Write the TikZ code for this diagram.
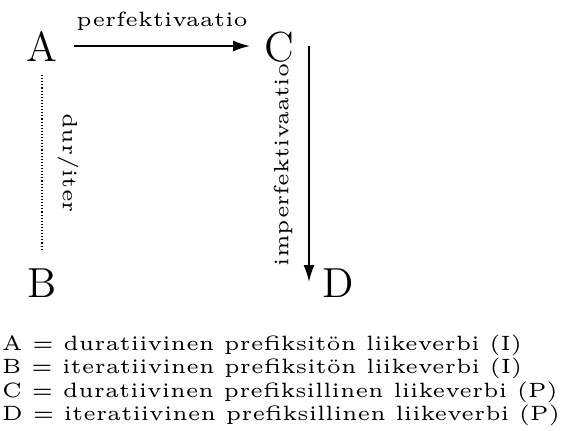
\documentclass[tikz,border=0pt]{standalone}
\usetikzlibrary{arrows.meta}
\font\lmv="[lmroman5-regular.otf]" at 20.7pt
\font\lmbig="[lmroman12-regular.otf]" at 42pt
\begin{document}
\begin{tikzpicture}[x=1pt,y=-1pt,
  big/.style={inner sep=0pt, font=\lmbig, text height=30pt, text depth=0pt},
  lab/.style={inner sep=0pt, font=\lmv},
  arr/.style={line width=1.6pt, -{Latex[length=17pt,width=11pt]}},
  dots/.style={line width=1.1pt, dash pattern=on 1.1pt off 2pt}]
\useasboundingbox (0,0) rectangle (568,431);
\node[big, anchor=base] (A) at (42,61) {A};
\node[big, anchor=base] (B) at (42,297) {B};
\node[big, anchor=base] (C) at (279,61) {C};
\node[big, anchor=base] (D) at (338,297) {D};
\draw[arr] ([xshift=32pt]A.center) -- ([xshift=-29pt]C.center);
\node[lab, anchor=base] (lp) at (162,26) {perfektivaatio};
\draw[dots] ([yshift=-29pt]A.center) -- ([yshift=32pt]B.center);
\node[lab, rotate=-90] (ld) at (68,163) {dur/iter};
\draw[arr] ([xshift=30pt]C.center) -- ([xshift=30pt]C.center |- D.center);
\node[lab, rotate=90] (li) at (283,165) {imperfektivaatio};
\node[lab, anchor=base west] (la) at (2,350) {A = duratiivinen prefiksitön liikeverbi (I)};
\node[lab, anchor=base west] (lb) at (2,373) {B = iteratiivinen prefiksitön liikeverbi (I)};
\node[lab, anchor=base west] (lc) at (2,397) {C = duratiivinen prefiksillinen liikeverbi (P)};
\node[lab, anchor=base west] (ldd) at (2,420) {D = iteratiivinen prefiksillinen liikeverbi (P)};
\end{tikzpicture}
\end{document}
